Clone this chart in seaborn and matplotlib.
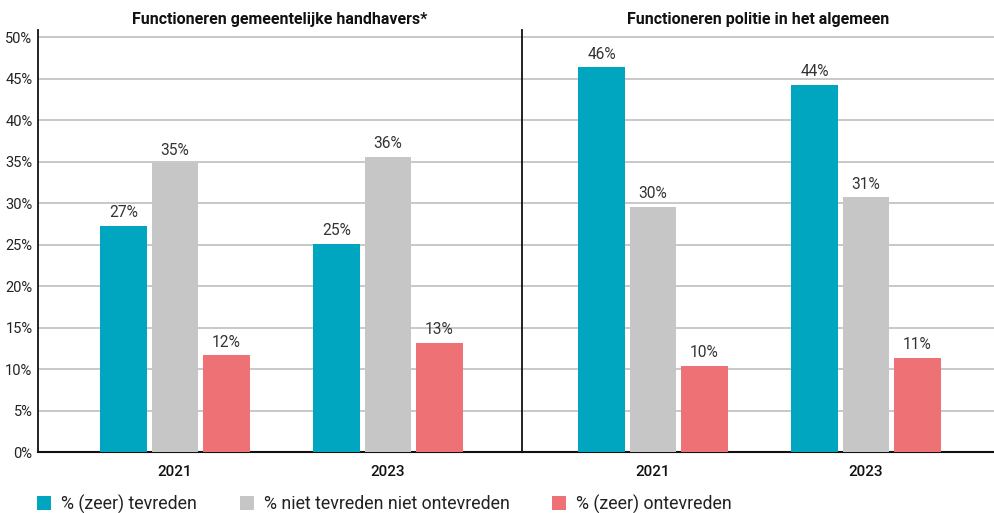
import matplotlib
matplotlib.use("Agg")
import matplotlib.pyplot as plt
import seaborn as sns
import pandas as pd
from matplotlib.patches import Patch

# ---- data ----
years = ["2021", "2023"]
series = ["% (zeer) tevreden", "% niet tevreden niet ontevreden", "% (zeer) ontevreden"]
panel_titles = ["Functioneren gemeentelijke handhavers*", "Functioneren politie in het algemeen"]
handhavers_tevreden = [27.3, 25.1]
handhavers_neutraal = [34.8, 35.6]
handhavers_ontevreden = [11.7, 13.2]
politie_tevreden = [46.4, 44.3]
politie_neutraal = [29.6, 30.7]
politie_ontevreden = [10.4, 11.4]
y_ticks = [0, 5, 10, 15, 20, 25, 30, 35, 40, 45, 50]
colors = ["#00A6C0", "#C6C6C6", "#EE7176"]

def long_df(t, n, o):
    rows = []
    for i, y in enumerate(years):
        for s, vals in zip(series, [t, n, o]):
            rows.append({"jaar": y, "reeks": s, "waarde": vals[i]})
    return pd.DataFrame(rows)

dfs = [long_df(handhavers_tevreden, handhavers_neutraal, handhavers_ontevreden),
       long_df(politie_tevreden, politie_neutraal, politie_ontevreden)]

sns.set_theme(style="white")
plt.rcParams["font.family"] = ["Roboto", "DejaVu Sans"]

W, H = 994, 513
fig = plt.figure(figsize=(W / 100, H / 100), dpi=100)

y0, y_top = 452.3, 29.8
ax_l = fig.add_axes([38 / W, (H - y0) / H, (522 - 38) / W, (y0 - y_top) / H])
ax_r = fig.add_axes([522 / W, (H - y0) / H, (994 - 522) / W, (y0 - y_top) / H], sharey=ax_l)

xlims = [(-0.643, 1.629), (-0.615, 1.601)]
for ax, df, title, xl in zip([ax_l, ax_r], dfs, panel_titles, xlims):
    sns.barplot(data=df, x="jaar", y="waarde", hue="reeks", hue_order=series,
                palette=colors, width=0.725, gap=0.09, ax=ax, legend=False,
                saturation=1, edgecolor="none", linewidth=0, zorder=3)
    ax.set_xlim(*xl)
    ax.set_ylim(0, 50.9)
    ax.set_yticks(y_ticks)
    ax.grid(axis="y", color="#C4C4C4", linewidth=1.3, zorder=0)
    ax.set_axisbelow(True)
    ax.set_xlabel("")
    ax.set_ylabel("")
    for sp in ["top", "right"]:
        ax.spines[sp].set_visible(False)
    ax.spines["left"].set_color("#111111")
    ax.spines["left"].set_linewidth(1.3)
    ax.spines["bottom"].set_color("#111111")
    ax.spines["bottom"].set_linewidth(1.5)
    ax.tick_params(axis="x", length=0, pad=9, labelsize=11, colors="#111111")
    for lab in ax.get_xticklabels():
        lab.set_fontweight("medium")
    ax.set_title(title, fontsize=11.5, fontweight="bold", color="#111111", pad=4.5)
    for cont in ax.containers:
        ax.bar_label(cont, labels=[f"{v:.0f}%" for v in cont.datavalues],
                     padding=4, fontsize=11.2, color="#333333")

ax_l.yaxis.set_major_formatter(matplotlib.ticker.FuncFormatter(lambda v, p: f"{v:.0f}%"))
ax_l.tick_params(axis="y", length=0, pad=4, labelsize=10.5, colors="#222222")
ax_r.tick_params(axis="y", left=False, labelleft=False, length=0)

handles = [Patch(facecolor=c, edgecolor="none") for c in colors]
fig.legend(handles, series, loc="center left", bbox_to_anchor=(30 / W, 1 - 504 / H),
           ncol=3, frameon=False, fontsize=12.8, handlelength=0.8, handleheight=0.8,
           handletextpad=0.55, columnspacing=2.4, borderaxespad=0, labelcolor="#222222")

fig.savefig("out.png", dpi=100)
